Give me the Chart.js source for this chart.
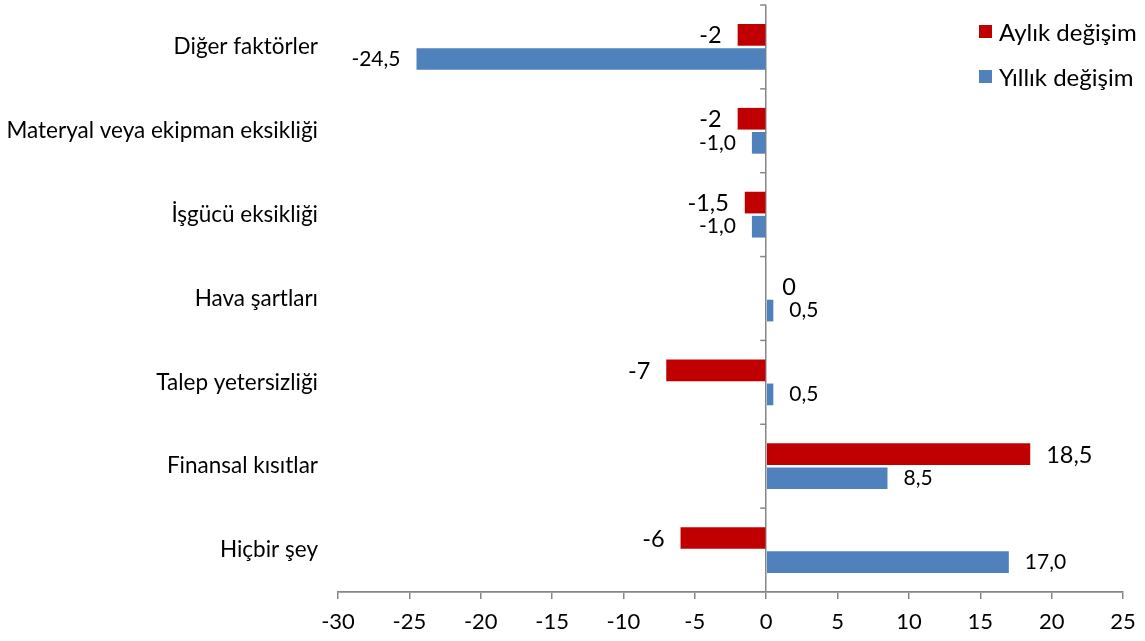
<!DOCTYPE html>
<html><head><meta charset="utf-8">
<script src="https://cdn.jsdelivr.net/npm/chart.js@4.4.1/dist/chart.umd.min.js"></script>
<style>
html,body{margin:0;padding:0;background:#fff;}
#wrap{position:relative;width:1145px;height:641px;}
#legend{position:absolute;left:979px;top:9px;font-family:Lato,sans-serif;font-size:24px;color:#000;}
.li{display:flex;align-items:center;height:45px;white-space:nowrap;}
.sw{width:13px;height:13px;margin-right:7px;}
</style></head><body>
<div id="wrap"><canvas id="c" width="1145" height="641"></canvas>
<div id="legend"><div class="li"><span class="sw" style="background:#C00000"></span>Aylık değişim</div><div class="li"><span class="sw" style="background:#4F81BD"></span>Yıllık değişim</div></div></div>
<script>
const categories = ['Diğer faktörler','Materyal veya ekipman eksikliği','İşgücü eksikliği','Hava şartları','Talep yetersizliği','Finansal kısıtlar','Hiçbir şey'];
const seriesNames = ['Aylık değişim','Yıllık değişim'];
const aylik = [-2, -2, -1.5, 0, -7, 18.5, -6];
const yillik = [-24.5, -1.0, -1.0, 0.5, 0.5, 8.5, 17.0];
const xMin = -30, xMax = 25, xStep = 5;

const FONT = 'Lato';
function fmtA(v){ return Number.isInteger(v) ? String(v) : v.toFixed(1).replace('.', ','); }
function fmtY(v){ return v.toFixed(1).replace('.', ','); }

const labelPlugin = {
  id: 'barLabels',
  afterDatasetsDraw(chart){
    const ctx = chart.ctx;
    chart.data.datasets.forEach((ds, di) => {
      const meta = chart.getDatasetMeta(di);
      ctx.save();
      ctx.fillStyle = '#000';
      ctx.textBaseline = 'middle';
      ctx.font = (di === 0 ? '23.5px ' : '21px ') + FONT;
      meta.data.forEach((bar, i) => {
        const v = ds.data[i];
        const txt = di === 0 ? fmtA(v) : fmtY(v);
        const dy = di === 0 ? 1 : 0;
        if (v >= 0) { ctx.textAlign = 'left'; ctx.fillText(txt, bar.x + 16, bar.y + dy); }
        else { ctx.textAlign = 'right'; ctx.fillText(txt, bar.x - 16, bar.y + dy); }
      });
      ctx.restore();
    });
  },
  afterDraw(chart){
    const ctx = chart.ctx, ys = chart.scales.y, xs = chart.scales.x;
    const x0 = xs.getPixelForValue(0);
    const n = categories.length;
    ctx.save();
    ctx.strokeStyle = '#868686'; ctx.lineWidth = 1.5;
    for (let i = 0; i < n; i++) {
      const y = ys.top + i * (ys.bottom - ys.top) / n;
      ctx.beginPath(); ctx.moveTo(x0 - 6, y); ctx.lineTo(x0, y); ctx.stroke();
    }
    ctx.restore();
  }
};

new Chart(document.getElementById('c'), {
  type: 'bar',
  data: {
    labels: categories,
    datasets: [
      { label: seriesNames[0], data: aylik, backgroundColor: '#C00000', categoryPercentage: 0.575, barPercentage: 0.9 },
      { label: seriesNames[1], data: yillik, backgroundColor: '#4F81BD', categoryPercentage: 0.575, barPercentage: 0.9 }
    ]
  },
  options: {
    indexAxis: 'y',
    responsive: false,
    animation: false,
    devicePixelRatio: 1,
    layout: { padding: { left: 0, right: 22, top: 5, bottom: 0 } },
    plugins: { legend: { display: false }, tooltip: { enabled: false } },
    scales: {
      x: {
        min: xMin, max: xMax,
        ticks: { stepSize: xStep, color: '#000', font: { family: FONT, size: 22 }, padding: 10 },
        grid: {
          color: c => (c.tick && c.tick.value === 0) ? '#868686' : 'rgba(0,0,0,0)',
          lineWidth: 1.5, tickColor: '#868686', tickLength: 7, drawTicks: true
        },
        border: { display: true, color: '#868686', width: 1.8 },
        afterFit: s => { s.height = 49; s.paddingLeft = 0; s.paddingRight = 0; }
      },
      y: {
        ticks: { color: '#000', font: { family: FONT, size: 22.5 }, padding: 20 },
        grid: { display: false, drawTicks: false },
        border: { display: false },
        afterFit: s => { s.width = 338; s.paddingTop = 0; s.paddingBottom = 0; }
      }
    }
  },
  plugins: [labelPlugin]
});
</script>
</body></html>
